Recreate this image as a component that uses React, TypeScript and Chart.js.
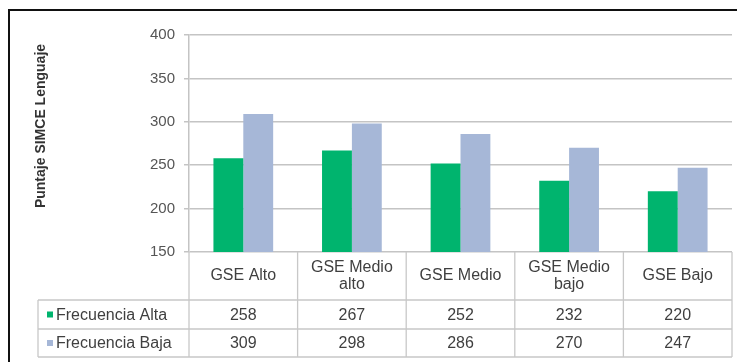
import React, { useEffect, useRef } from 'react';
import { Chart, registerables } from 'chart.js';

Chart.register(...registerables);

const categories: string[][] = [['GSE Alto'], ['GSE Medio', 'alto'], ['GSE Medio'], ['GSE Medio', 'bajo'], ['GSE Bajo']];
const seriesNames = ['Frecuencia Alta', 'Frecuencia Baja'];
const frecuenciaAlta = [258, 267, 252, 232, 220];
const frecuenciaBaja = [309, 298, 286, 270, 247];
const yMin = 150;
const yMax = 400;
const yStep = 50;
const yTitle = 'Puntaje SIMCE Lenguaje';

const GREEN = '#00B46E';
const BLUE = '#A6B7D7';
const FONT = '"Liberation Sans", Arial, sans-serif';

const tablePlugin = {
  id: 'dataTable',
  afterDraw(chart: any) {
    const ctx = chart.ctx as CanvasRenderingContext2D;
    const xs = chart.scales.x;
    const area = chart.chartArea;
    const n = categories.length;
    const step = xs.getPixelForValue(1) - xs.getPixelForValue(0);
    const top = area.bottom;
    const r1 = top + 48;
    const r2 = top + 77;
    const r3 = top + 105;
    const tableLeft = 38;
    const right = xs.getPixelForValue(n - 1) + step / 2;

    ctx.save();
    ctx.strokeStyle = '#c8c8c8';
    ctx.lineWidth = 1.3;
    ctx.beginPath();
    [r1, r2, r3].forEach((y) => {
      ctx.moveTo(tableLeft, y);
      ctx.lineTo(right, y);
    });
    ctx.moveTo(tableLeft, r1);
    ctx.lineTo(tableLeft, r3);
    for (let i = 0; i <= n; i++) {
      const x = xs.getPixelForValue(0) - step / 2 + i * step;
      ctx.moveTo(x, top);
      ctx.lineTo(x, r3);
    }
    ctx.stroke();

    ctx.fillStyle = '#3f3f3f';
    ctx.textAlign = 'center';
    ctx.textBaseline = 'middle';
    ctx.font = `16px ${FONT}`;
    categories.forEach((lines, i) => {
      const cx = xs.getPixelForValue(i);
      const cy = (top + r1) / 2;
      const lh = 17;
      lines.forEach((t, k) => {
        ctx.fillText(t, cx, cy + (k - (lines.length - 1) / 2) * lh);
      });
    });
    const rows = [frecuenciaAlta, frecuenciaBaja];
    const rowMid = [(r1 + r2) / 2 + 1, (r2 + r3) / 2 + 1];
    rows.forEach((vals, ri) => {
      vals.forEach((v, i) => {
        ctx.fillText(String(v), xs.getPixelForValue(i), rowMid[ri]);
      });
    });
    const colors = [GREEN, BLUE];
    ctx.textAlign = 'left';
    seriesNames.forEach((name, ri) => {
      ctx.fillStyle = colors[ri];
      ctx.fillRect(tableLeft + 9, rowMid[ri] - 4, 6, 6);
      ctx.fillStyle = '#3f3f3f';
      ctx.fillText(name, tableLeft + 18, rowMid[ri]);
    });

    ctx.translate(41, 126);
    ctx.rotate(-Math.PI / 2);
    ctx.textAlign = 'center';
    ctx.font = `bold 14px ${FONT}`;
    ctx.fillStyle = '#333333';
    ctx.fillText(yTitle, 0, 0);
    ctx.restore();
  },
};

export default function App() {
  const ref = useRef<HTMLCanvasElement | null>(null);
  useEffect(() => {
    if (!ref.current) return;
    const chart = new Chart(ref.current, {
      type: 'bar',
      data: {
        labels: categories,
        datasets: [
          { label: seriesNames[0], data: frecuenciaAlta, backgroundColor: GREEN },
          { label: seriesNames[1], data: frecuenciaBaja, backgroundColor: BLUE },
        ],
      },
      options: {
        animation: false,
        responsive: false,
        devicePixelRatio: 1,
        layout: { padding: { left: 0, top: 35, right: 5, bottom: 110 } },
        plugins: { legend: { display: false }, tooltip: { enabled: false }, title: { display: false } },
        datasets: { bar: { categoryPercentage: 0.55, barPercentage: 1 } },
        scales: {
          x: { display: false },
          y: {
            min: yMin,
            max: yMax,
            ticks: {
              stepSize: yStep,
              padding: 9,
              color: '#555555',
              font: { family: FONT, size: 15 },
            },
            grid: { color: '#c4c4c4', lineWidth: 1.5, tickLength: 5 },
            border: { display: true, color: '#c4c4c4', width: 1.5 },
            afterFit(scale: any) {
              scale.width = 189;
            },
          },
        },
      },
      plugins: [tablePlugin],
    } as any);
    return () => chart.destroy();
  }, []);
  return (
    <div style={{ position: 'absolute', left: 0, top: 0, width: 737, height: 362, overflow: 'hidden', background: '#fff' }}>
      <div
        style={{
          position: 'absolute',
          left: 8,
          top: 9,
          width: 800,
          height: 400,
          borderLeft: '2.5px solid #111',
          borderTop: '2.5px solid #111',
        }}
      />
      <canvas ref={ref} width={737} height={362} style={{ position: 'absolute', left: 0, top: 0, width: 737, height: 362 }} />
    </div>
  );
}
